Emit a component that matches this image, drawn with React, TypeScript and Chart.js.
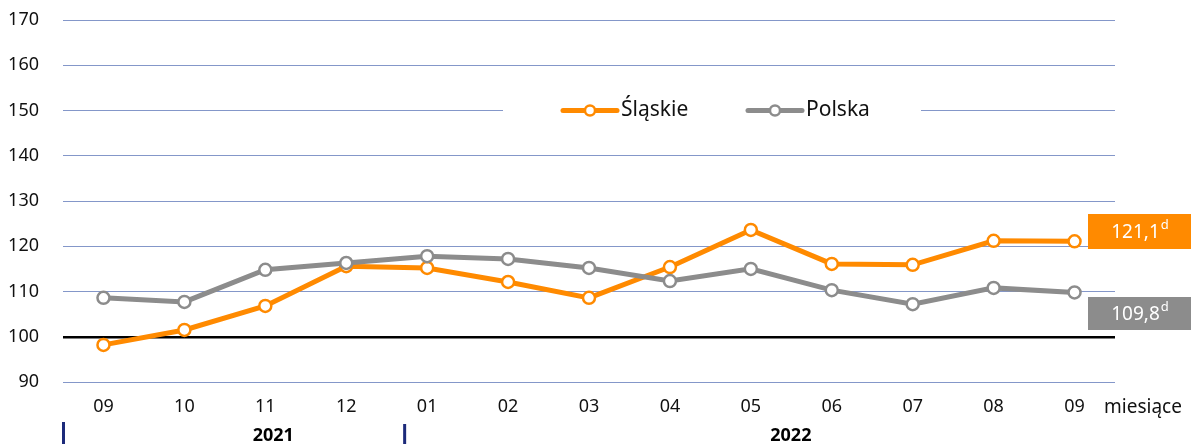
import React, { useEffect, useRef } from "react";
import { Chart, registerables } from "chart.js";

Chart.register(...registerables);

const months = ["09", "10", "11", "12", "01", "02", "03", "04", "05", "06", "07", "08", "09"];
const slaskie = [98.2, 101.5, 106.8, 115.6, 115.2, 112.1, 108.6, 115.4, 123.6, 116.1, 115.9, 121.2, 121.1];
const polska = [108.6, 107.7, 114.8, 116.3, 117.8, 117.2, 115.2, 112.3, 115.0, 110.3, 107.2, 110.8, 109.8];
const seriesNames = ["Śląskie", "Polska"];
const yearLabels = ["2021", "2022"];
const lastLabels = ["121,1", "109,8"];

const ORANGE = "#ff8a00";
const GRAY = "#8c8c8c";
const FONT = "'Noto Sans', sans-serif";

const overlay = {
  id: "overlay",
  afterDraw(chart: any) {
    const ctx = chart.ctx;
    const ca = chart.chartArea;
    const x = chart.scales.x;
    const y = chart.scales.y;
    ctx.save();
    // legend
    const ly = y.getPixelForValue(150);
    ctx.fillStyle = "#ffffff";
    ctx.fillRect(503, ly - 18, 418, 36);
    const items = [
      { name: seriesNames[0], color: ORANGE, x0: 563 },
      { name: seriesNames[1], color: GRAY, x0: 748 },
    ];
    items.forEach((it) => {
      ctx.strokeStyle = it.color;
      ctx.lineWidth = 5;
      ctx.lineCap = "round";
      ctx.beginPath();
      ctx.moveTo(it.x0, ly);
      ctx.lineTo(it.x0 + 54, ly);
      ctx.stroke();
      ctx.beginPath();
      ctx.fillStyle = "#fff";
      ctx.arc(it.x0 + 27, ly, 5, 0, Math.PI * 2);
      ctx.fill();
      ctx.lineWidth = 2.5;
      ctx.stroke();
      ctx.fillStyle = "#111";
      ctx.font = `21px ${FONT}`;
      ctx.textAlign = "left";
      ctx.textBaseline = "middle";
      ctx.fillText(it.name, it.x0 + 58, ly);
    });
    // value boxes
    const boxes = [
      { color: ORANGE, y: 214, h: 35, text: lastLabels[0] },
      { color: GRAY, y: 297, h: 33, text: lastLabels[1] },
    ];
    boxes.forEach((b) => {
      ctx.fillStyle = b.color;
      ctx.fillRect(1088, b.y, 103, b.h);
      ctx.fillStyle = "#fff";
      ctx.font = `19px ${FONT}`;
      ctx.textBaseline = "middle";
      ctx.textAlign = "left";
      const w = ctx.measureText(b.text).width;
      ctx.font = `13px ${FONT}`;
      const sw = ctx.measureText("d").width;
      const start = 1088 + (103 - w - sw) / 2;
      ctx.font = `19px ${FONT}`;
      ctx.fillText(b.text, start, b.y + b.h / 2 + 1);
      ctx.font = `13px ${FONT}`;
      ctx.fillText("d", start + w + 1, b.y + b.h / 2 - 6);
    });
    // axis suffix
    ctx.fillStyle = "#111";
    ctx.font = `19px ${FONT}`;
    ctx.textAlign = "left";
    ctx.textBaseline = "middle";
    ctx.fillText("miesiące", 1104, 408);
    // year separators
    const sep1 = ca.left;
    const sep2 = x.getPixelForValue(4) - 23;
    ctx.fillStyle = "#1c2a7a";
    ctx.fillRect(sep1 - 1, 422, 3, 22);
    ctx.fillRect(sep2 - 1, 424, 3, 20);
    ctx.fillStyle = "#000";
    ctx.font = `bold 18px ${FONT}`;
    ctx.textAlign = "center";
    ctx.fillText(yearLabels[0], x.getPixelForValue(2) + 8, 436);
    ctx.fillText(yearLabels[1], x.getPixelForValue(8) + 40, 436);
    ctx.restore();
  },
};

export default function App() {
  const ref = useRef<HTMLCanvasElement | null>(null);
  useEffect(() => {
    document.body.style.margin = "0";
    const chart = new Chart(ref.current as HTMLCanvasElement, {
      type: "line",
      data: {
        labels: months,
        datasets: [
          {
            label: seriesNames[0],
            data: slaskie,
            borderColor: ORANGE,
            backgroundColor: "#ffffff",
            pointBackgroundColor: "#ffffff",
            pointBorderColor: ORANGE,
            borderWidth: 5,
            pointRadius: 6,
            pointBorderWidth: 2.5,
            tension: 0,
            order: 1,
          },
          {
            label: seriesNames[1],
            data: polska,
            borderColor: GRAY,
            backgroundColor: "#ffffff",
            pointBackgroundColor: "#ffffff",
            pointBorderColor: GRAY,
            borderWidth: 5,
            pointRadius: 6,
            pointBorderWidth: 2.5,
            tension: 0,
            order: 0,
          },
        ],
      },
      options: {
        animation: false,
        responsive: false,
        maintainAspectRatio: false,
        layout: { autoPadding: false, padding: { top: 20, right: 76, left: 0, bottom: 0 } },
        plugins: { legend: { display: false }, tooltip: { enabled: false }, title: { display: false } },
        scales: {
          x: {
            offset: true,
            grid: { display: false, drawTicks: false },
            border: { display: false },
            ticks: { color: "#111", font: { family: FONT, size: 18 }, padding: 14, maxRotation: 0, autoSkip: false },
            afterFit: (s: any) => {
              s.height = 62;
              s.paddingLeft = 0;
              s.paddingRight = 0;
            },
          },
          y: {
            min: 90,
            max: 170,
            border: { display: false },
            grid: {
              drawTicks: false,
              color: (c: any) => (c.tick && c.tick.value === 100 ? "#000000" : "#8497c9"),
              lineWidth: (c: any) => (c.tick && c.tick.value === 100 ? 2.5 : 1),
            },
            ticks: { stepSize: 10, color: "#111", font: { family: FONT, size: 18 }, padding: 24 },
            afterFit: (s: any) => {
              s.width = 63;
              s.paddingTop = 0;
              s.paddingBottom = 0;
            },
          },
        },
      },
      plugins: [overlay],
    });
    return () => chart.destroy();
  }, []);
  return (
    <div style={{ position: "absolute", left: 0, top: 0, width: 1191, height: 444 }}>
      <canvas ref={ref} width={1191} height={444} style={{ width: 1191, height: 444 }} />
    </div>
  );
}
